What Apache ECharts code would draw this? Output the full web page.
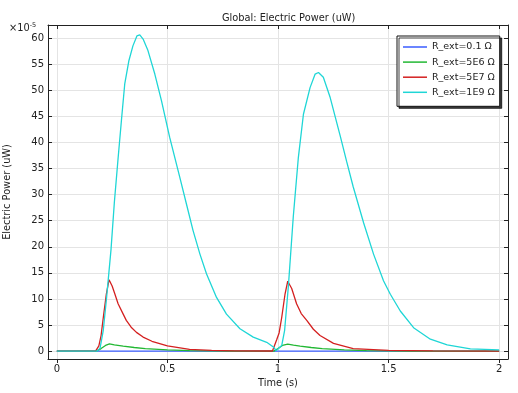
<!DOCTYPE html>
<html>
<head>
<meta charset="utf-8">
<script src="https://cdn.jsdelivr.net/npm/echarts@6/dist/echarts.min.js"></script>
<style>html,body{margin:0;padding:0;background:#fff}#c{width:518px;height:393px}</style>
</head>
<body>
<div id="c"></div>
<script>
// ---- data ----
const seriesNames = ['R_ext=0.1 Ω', 'R_ext=5E6 Ω', 'R_ext=5E7 Ω', 'R_ext=1E9 Ω'];
const xTicks = [0, 0.5, 1, 1.5, 2];
const yTicks = [0, 5, 10, 15, 20, 25, 30, 35, 40, 45, 50, 55, 60];

const tBlue = [0, 2];
const vBlue = [0, 0];

const tGreen = [0, 0.178, 0.2, 0.22, 0.238, 0.26, 0.3, 0.35, 0.4, 0.5, 0.6, 0.8, 0.982, 1.0, 1.02, 1.044, 1.07, 1.1, 1.15, 1.2, 1.3, 1.4, 1.6, 2.0];
const vGreen = [0, 0, 0.5, 1.1, 1.4, 1.2, 0.95, 0.7, 0.5, 0.25, 0.12, 0.03, 0.01, 0.5, 1.1, 1.35, 1.15, 0.95, 0.7, 0.5, 0.25, 0.12, 0.03, 0];

const tRed = [0, 0.175, 0.19, 0.2, 0.212, 0.224, 0.236, 0.25, 0.262, 0.277, 0.3, 0.314, 0.336, 0.36, 0.39, 0.43, 0.5, 0.6, 0.7, 0.8, 0.975,
              0.982, 0.994, 1.005, 1.017, 1.032, 1.044, 1.062, 1.084, 1.105, 1.13, 1.16, 1.19, 1.251, 1.34, 1.5, 1.7, 2.0];
const vRed = [0, 0, 1.0, 3.0, 7.1, 11.0, 13.7, 12.5, 11.0, 9.1, 7.1, 5.9, 4.6, 3.6, 2.7, 1.9, 1.0, 0.35, 0.15, 0.07, 0.03,
              0.3, 2.2, 3.5, 6.5, 11.0, 13.4, 12.0, 9.1, 7.2, 5.9, 4.2, 3.0, 1.5, 0.5, 0.15, 0.05, 0.02];

const tCyan = [0, 0.18, 0.195, 0.21, 0.225, 0.245, 0.26, 0.276, 0.292, 0.307, 0.326, 0.344, 0.362, 0.375, 0.39, 0.412, 0.443, 0.473, 0.51, 0.556, 0.586, 0.616, 0.647, 0.677, 0.722, 0.767, 0.828, 0.888, 0.949, 0.979, 0.992,
               1.0, 1.017, 1.03, 1.047, 1.069, 1.092, 1.115, 1.145, 1.168, 1.183, 1.205, 1.236, 1.281, 1.31, 1.34, 1.387, 1.432, 1.477, 1.508, 1.553, 1.613, 1.689, 1.765, 1.87, 2.0];
const vCyan = [0, 0, 0.5, 4.0, 10.3, 19.5, 28.5, 36.5, 44.2, 51.2, 55.7, 58.5, 60.4, 60.6, 59.8, 57.6, 53.1, 48.0, 41.0, 33.3, 28.2, 23.1, 18.6, 14.8, 10.3, 7.1, 4.3, 2.7, 1.7, 0.8, 0.1,
               0.3, 1.1, 4.0, 12.5, 25.7, 37.1, 45.4, 50.5, 53.1, 53.4, 52.5, 48.6, 41.3, 36.4, 31.5, 24.6, 18.6, 13.5, 10.9, 7.7, 4.5, 2.3, 1.2, 0.45, 0.25];

const colors = ['#3a5cff', '#22b833', '#d42020', '#1fd6d6'];
// --------------------------------------------------------

const pair = (t, v) => t.map((x, i) => [x, v[i]]);
const seriesData = [pair(tBlue, vBlue), pair(tGreen, vGreen), pair(tRed, vRed), pair(tCyan, vCyan)];

const FONT = 'DejaVu Sans';
const X_MIN = -0.04, X_MAX = 2.04, Y_MIN = -1.5, Y_MAX = 62.5;

const chart = echarts.init(document.getElementById('c'), null, {renderer: 'canvas'});
const axisLineStyle = {color: '#222', width: 1};
const option = {
  animation: false,
  backgroundColor: '#fff',
  color: colors,
  title: {
    text: 'Global: Electric Power (uW)',
    left: 217, top: 8,
    textStyle: {fontFamily: FONT, fontSize: 9.8, fontWeight: 'normal', color: '#222'}
  },
  graphic: [{
    type: 'text', left: 9, top: 22,
    style: {
      text: '{a|×10}{b|-5}',
      rich: {
        a: {fontFamily: FONT, fontSize: 9.8, fill: '#222'},
        b: {fontFamily: FONT, fontSize: 6.5, fill: '#222', verticalAlign: 'top', padding: [0, 0, 6, 0]}
      }
    }
  }],
  grid: {left: 48, right: 10, top: 25, bottom: 34, containLabel: false, outerBoundsMode: 'none'},
  legend: {
    orient: 'vertical',
    left: 397, top: 36,
    padding: [6, 5, 9, 6],
    itemGap: 5.1,
    icon: 'rect',
    itemWidth: 24, itemHeight: 1.5,
    backgroundColor: '#fff',
    borderColor: '#111', borderWidth: 1,
    borderRadius: 0,
    shadowColor: 'rgba(0,0,0,0.75)', shadowBlur: 0, shadowOffsetX: 2, shadowOffsetY: 2,
    textStyle: {fontFamily: FONT, fontSize: 9.5, color: '#222', padding: [0, 0, 0, 0]},
    data: seriesNames
  },
  xAxis: [{
    type: 'value', min: X_MIN, max: X_MAX,
    name: 'Time (s)', nameLocation: 'middle', nameGap: 13,
    nameTextStyle: {fontFamily: FONT, fontSize: 9.8, color: '#222'},
    axisLine: {show: true, onZero: false, lineStyle: axisLineStyle},
    axisTick: {show: true, inside: false, length: 4, customValues: xTicks, lineStyle: {color: '#222'}},
    axisLabel: {customValues: xTicks, fontFamily: FONT, fontSize: 10, color: '#222', margin: 5,
                formatter: v => String(v)},
    splitLine: {show: true, lineStyle: {color: '#e4e4e4', width: 1}}
  }, {
    type: 'value', min: X_MIN, max: X_MAX, position: 'top',
    axisLine: {show: true, onZero: false, lineStyle: axisLineStyle},
    axisTick: {show: true, inside: true, length: 4, customValues: xTicks, lineStyle: {color: '#222'}},
    axisLabel: {show: false, customValues: xTicks},
    splitLine: {show: false}
  }],
  yAxis: [{
    type: 'value', min: Y_MIN, max: Y_MAX,
    name: 'Electric Power (uW)', nameLocation: 'middle', nameGap: 36, nameRotate: 90,
    nameTextStyle: {fontFamily: FONT, fontSize: 9.8, color: '#222'},
    axisLine: {show: true, onZero: false, lineStyle: axisLineStyle},
    axisTick: {show: true, inside: true, length: 4, customValues: yTicks, lineStyle: {color: '#222'}},
    axisLabel: {customValues: yTicks, fontFamily: FONT, fontSize: 10, color: '#222', margin: 4,
                formatter: v => String(v)},
    splitLine: {show: true, lineStyle: {color: '#e4e4e4', width: 1}}
  }, {
    type: 'value', min: Y_MIN, max: Y_MAX, position: 'right',
    axisLine: {show: true, onZero: false, lineStyle: axisLineStyle},
    axisTick: {show: true, inside: true, length: 4, customValues: yTicks, lineStyle: {color: '#222'}},
    axisLabel: {show: false, customValues: yTicks},
    splitLine: {show: false}
  }],
  series: seriesNames.map((name, i) => ({
    name: name,
    type: 'line',
    xAxisIndex: 0, yAxisIndex: 0,
    data: seriesData[i],
    symbol: 'none',
    smooth: false,
    lineStyle: {width: 1.3, color: colors[i]},
    itemStyle: {color: colors[i]},
    z: 2 + i
  }))
};
chart.setOption(option);
</script>
</body>
</html>
